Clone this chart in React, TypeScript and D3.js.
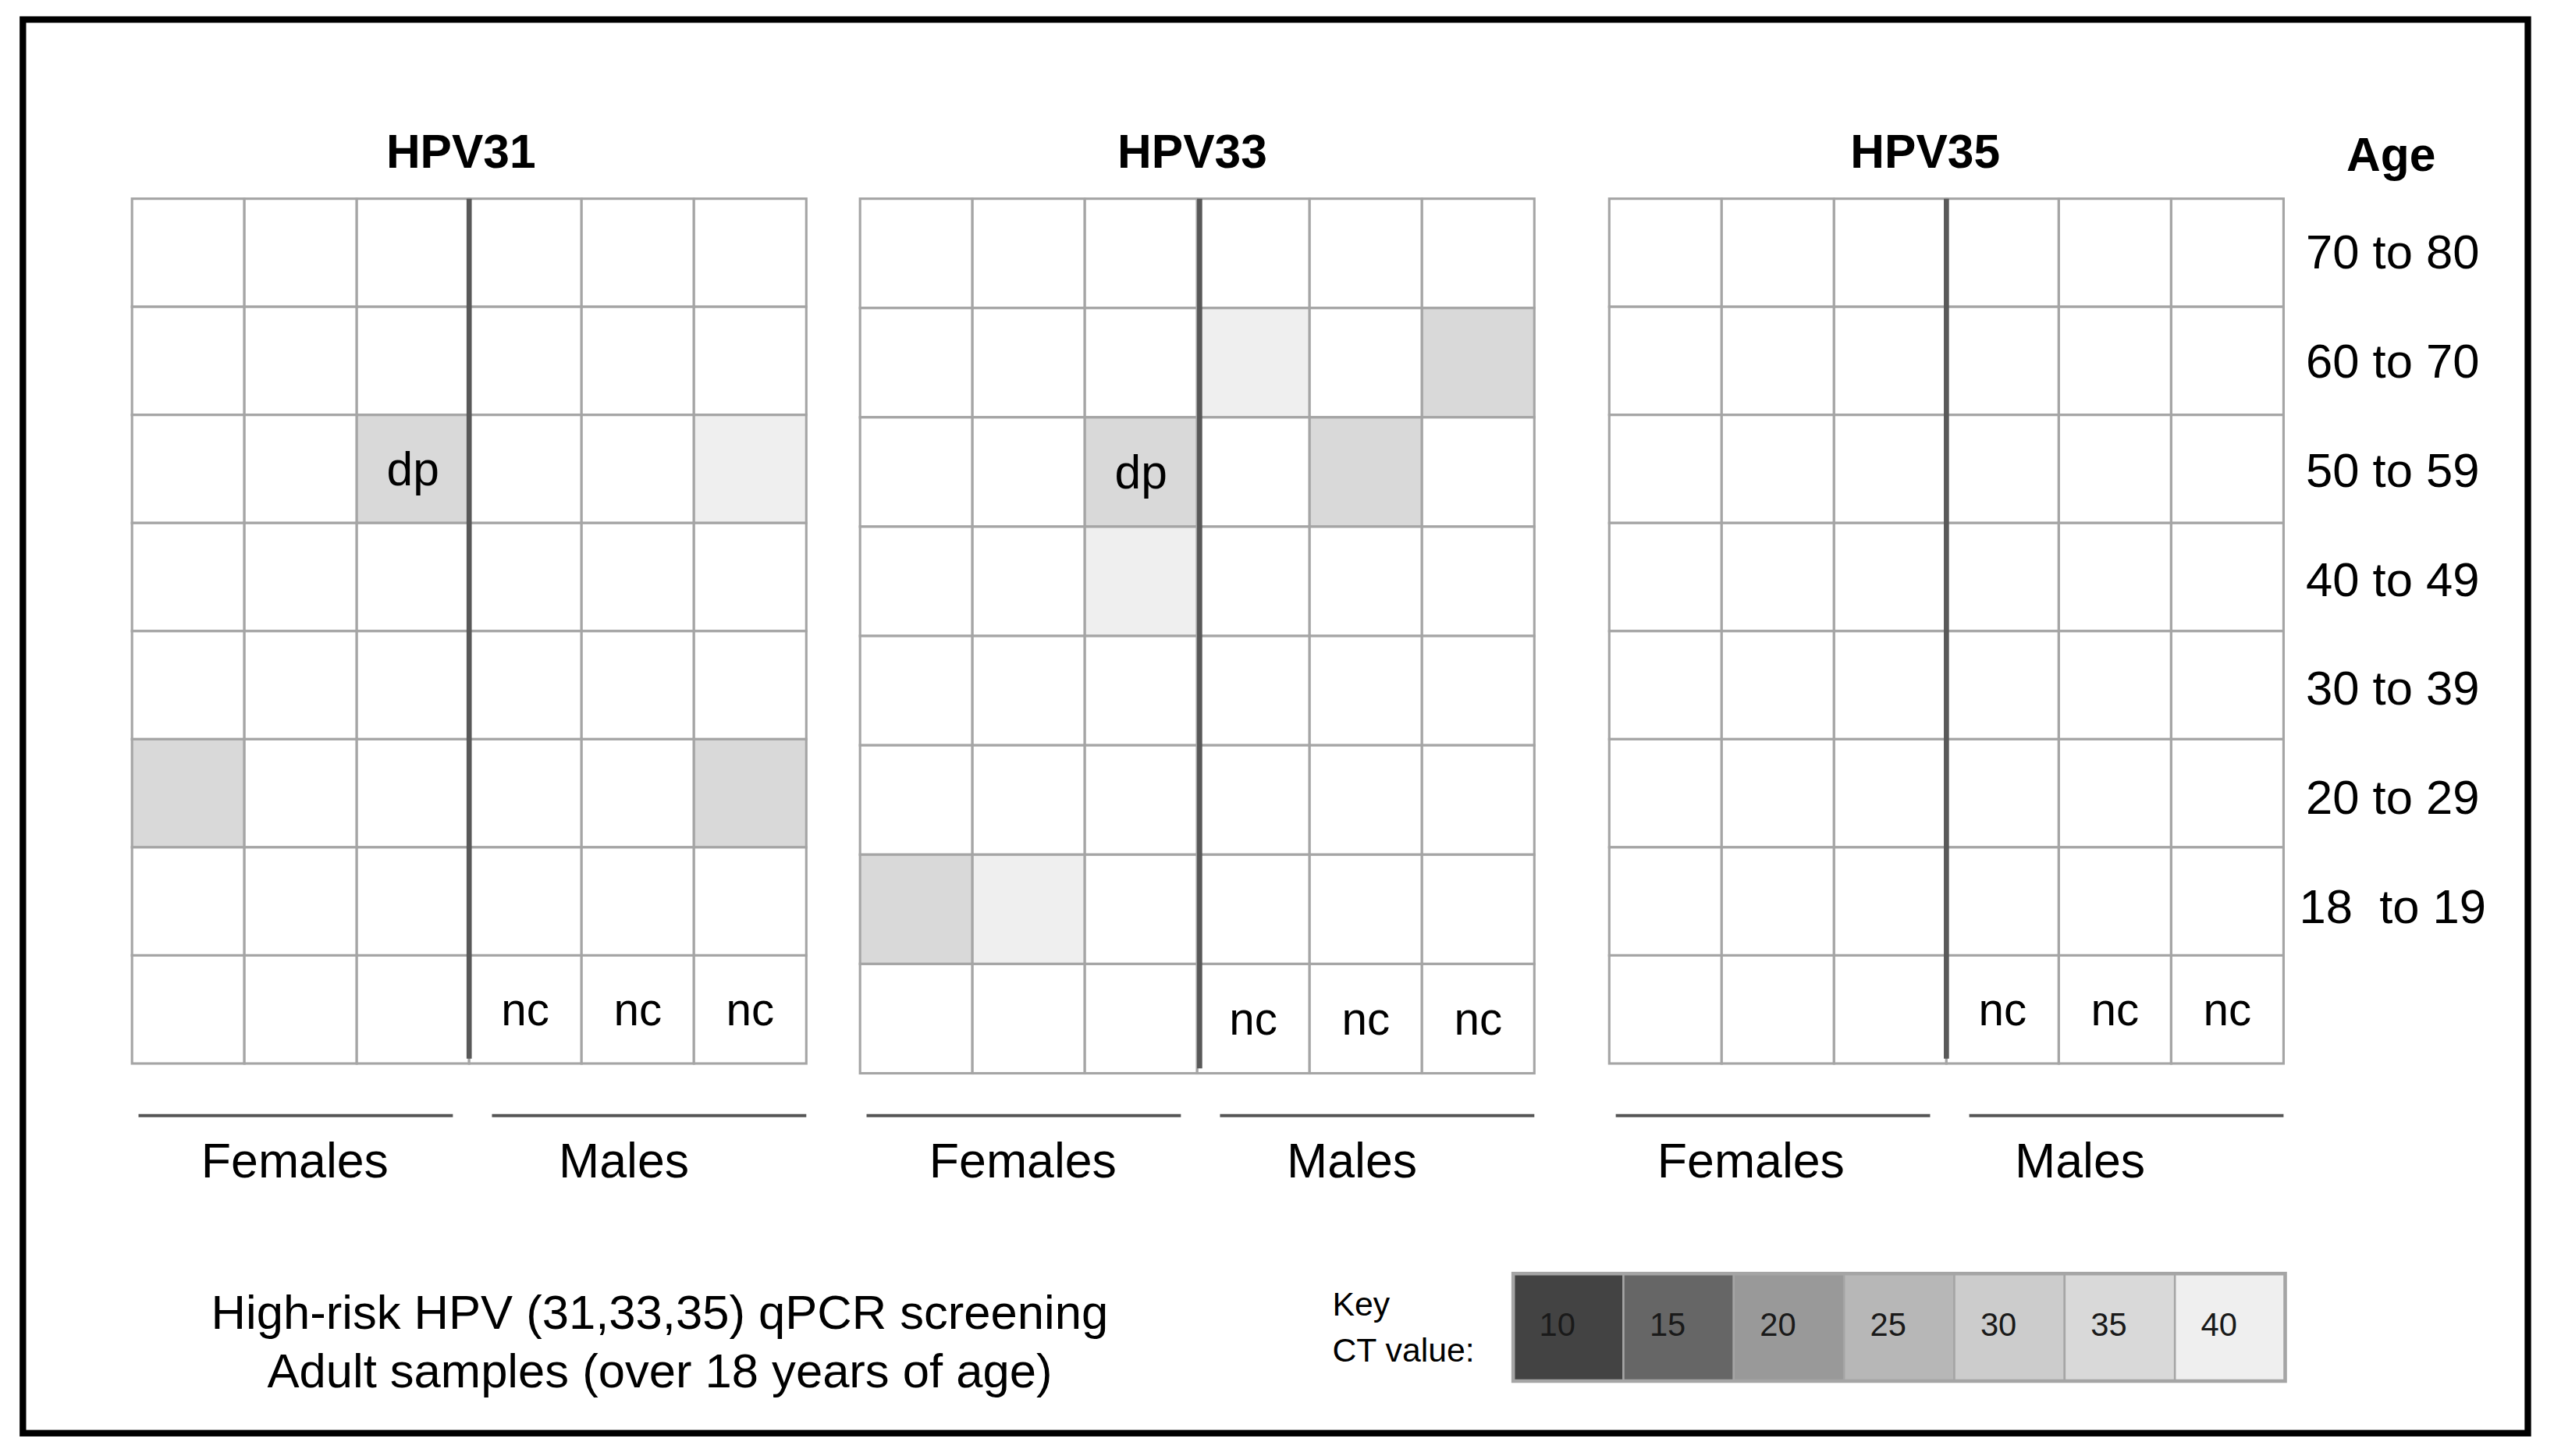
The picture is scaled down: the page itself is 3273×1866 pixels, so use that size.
import * as React from 'react';
import * as d3 from 'd3';

// layout is drawn in a 1568 x 894 coordinate space and scaled up to the page
const W = 1568;
const H = 894;

const panelNames = ['HPV31', 'HPV33', 'HPV35'];
const ageGroups = ['70 to 80', '60 to 70', '50 to 59', '40 to 49', '30 to 39', '20 to 29', '18  to 19'];
const rowKeys = [...ageGroups, 'none']; // last row has no age group
const sexColumns = ['F1', 'F2', 'F3', 'M1', 'M2', 'M3'];
const sexGroups = ['Females', 'Males'];

const ctKey = [10, 15, 20, 25, 30, 35, 40];
const ctGrays = ['#434343', '#666666', '#999999', '#b7b7b7', '#cccccc', '#d9d9d9', '#efefef'];

interface Hit {
  age: string;
  col: string;
  ct: number;
  note?: string;
}

const hpv31Hits: Hit[] = [
  { age: '50 to 59', col: 'F3', ct: 35, note: 'dp' },
  { age: '50 to 59', col: 'M3', ct: 40 },
  { age: '20 to 29', col: 'F1', ct: 35 },
  { age: '20 to 29', col: 'M3', ct: 35 },
];
const hpv33Hits: Hit[] = [
  { age: '60 to 70', col: 'M1', ct: 40 },
  { age: '60 to 70', col: 'M3', ct: 35 },
  { age: '50 to 59', col: 'F3', ct: 35, note: 'dp' },
  { age: '50 to 59', col: 'M2', ct: 35 },
  { age: '40 to 49', col: 'F3', ct: 40 },
  { age: '18  to 19', col: 'F1', ct: 35 },
  { age: '18  to 19', col: 'F2', ct: 40 },
];
const hpv35Hits: Hit[] = [];
const panelHits = [hpv31Hits, hpv33Hits, hpv35Hits];
const ncColumns = ['M1', 'M2', 'M3'];

// panel placement
const panelLeft = [81, 528, 988];
const panelBottom = [653, 659, 653];
const panelTitleDx = [-5, -3, -13];
const panelLabelDx = [0, 0, -13];
const gridTop = 122;
const gridWidth = 414;
// bracket spans and label centres, relative to the panel's left edge
const bracketSpan = [
  [4, 197],
  [221, 414],
];
const bracketLabelX = [100, 302];

const FONT = '"Liberation Sans", Arial, sans-serif';
const GRID = '#a5a5a5';

const ctColor = d3.scaleOrdinal<number, string>().domain(ctKey).range(ctGrays);

function Panel({ index }: { index: number }) {
  const left = panelLeft[index];
  const x = d3.scaleBand<string>().domain(sexColumns).range([left, left + gridWidth]);
  const y = d3.scaleBand<string>().domain(rowKeys).range([gridTop, panelBottom[index]]);
  const hits = panelHits[index];
  const hitAt = (age: string, col: string) => hits.find((h) => h.age === age && h.col === col);
  const divX = (x('M1') as number) + (index === 1 ? 1.5 : 0);

  return (
    <g>
      <text
        x={left + gridWidth / 2 + panelTitleDx[index]}
        y={103}
        textAnchor="middle"
        fontWeight="bold"
        fontSize={29}
      >
        {panelNames[index]}
      </text>
      {rowKeys.map((r) =>
        sexColumns.map((c) => {
          const hit = hitAt(r, c);
          return (
            <rect
              key={r + c}
              x={x(c)}
              y={y(r)}
              width={x.bandwidth()}
              height={y.bandwidth()}
              fill={hit ? ctColor(hit.ct) : '#ffffff'}
              stroke={GRID}
              strokeWidth={1.5}
            />
          );
        })
      )}
      {hits
        .filter((h) => h.note)
        .map((h) => (
          <text
            key={'n' + h.age + h.col}
            x={(x(h.col) as number) + x.bandwidth() / 2}
            y={(y(h.age) as number) + y.bandwidth() / 2}
            dy="0.35em"
            textAnchor="middle"
            fontSize={29}
          >
            {h.note}
          </text>
        ))}
      {ncColumns.map((c) => (
        <text
          key={'nc' + c}
          x={(x(c) as number) + x.bandwidth() / 2}
          y={(y('none') as number) + y.bandwidth() / 2}
          dy="0.35em"
          textAnchor="middle"
          fontSize={28}
        >
          nc
        </text>
      ))}
      <line
        x1={divX}
        x2={divX}
        y1={gridTop}
        y2={panelBottom[index] - 3}
        stroke="#595959"
        strokeWidth={3.2}
      />
      {/* Females / Males brackets */}
      {sexGroups.map((s, i) => (
        <g key={s}>
          <line
            x1={left + bracketSpan[i][0]}
            x2={left + bracketSpan[i][1]}
            y1={685}
            y2={685}
            stroke="#555555"
            strokeWidth={2}
          />
          <text
            x={left + bracketLabelX[i] + panelLabelDx[index]}
            y={723}
            textAnchor="middle"
            fontSize={30}
          >
            {s}
          </text>
        </g>
      ))}
    </g>
  );
}

function Key() {
  const kx = d3.scaleBand<number>().domain(ctKey).range([929, 1403]);
  const top = 782;
  const h = 66;
  return (
    <g>
      <text x={818} y={808} fontSize={20.5}>
        Key
      </text>
      <text x={818} y={836} fontSize={20.5}>
        CT value:
      </text>
      {ctKey.map((v) => (
        <g key={v}>
          <rect
            x={kx(v)}
            y={top}
            width={kx.bandwidth()}
            height={h}
            fill={ctColor(v)}
            stroke={GRID}
            strokeWidth={1.2}
          />
          <text x={(kx(v) as number) + 16} y={top + h / 2 - 2} dy="0.35em" fontSize={20} fill="#1a1a1a">
            {v}
          </text>
        </g>
      ))}
      <rect x={929} y={top} width={474} height={h} fill="none" stroke={GRID} strokeWidth={2.2} />
    </g>
  );
}

export default function App() {
  // age labels sit a touch wider apart than the grid rows
  const ageY = d3.scaleBand<string>().domain(rowKeys).range([gridTop, 658]);
  return (
    <div style={{ position: 'fixed', left: 0, top: 0 }}>
      <svg
        width={3273}
        height={1866}
        viewBox={`0 0 ${W} ${H}`}
        style={{ display: 'block', background: '#ffffff', fontFamily: FONT }}
      >
        <rect x={0} y={0} width={W} height={H} fill="#ffffff" />
        <rect x={14} y={12} width={1538} height={868} fill="none" stroke="#000000" strokeWidth={4} />
        {panelNames.map((p, i) => (
          <Panel key={p} index={i} />
        ))}
        <text x={1468} y={105} textAnchor="middle" fontWeight="bold" fontSize={29}>
          Age
        </text>
        {ageGroups.map((a) => (
          <text
            key={a}
            x={1469}
            y={(ageY(a) as number) + ageY.bandwidth() / 2 - 1}
            dy="0.35em"
            textAnchor="middle"
            fontSize={29.5}
            style={{ whiteSpace: 'pre' }}
          >
            {a}
          </text>
        ))}
        <text x={405} y={816} textAnchor="middle" fontSize={29.5}>
          High-risk HPV (31,33,35) qPCR screening
        </text>
        <text x={405} y={852} textAnchor="middle" fontSize={29.5}>
          Adult samples (over 18 years of age)
        </text>
        <Key />
      </svg>
    </div>
  );
}
